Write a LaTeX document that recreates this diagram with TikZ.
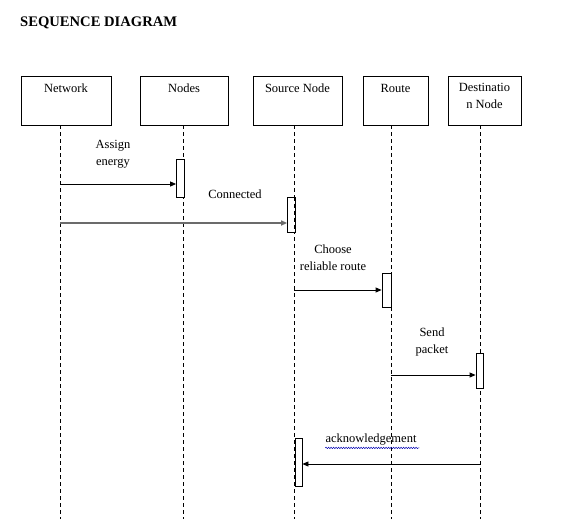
\documentclass[tikz,border=0pt]{standalone}
\usepackage{fontspec}
\setmainfont{Liberation Serif}
\usetikzlibrary{arrows.meta,decorations.pathmorphing}
\begin{document}
\begin{tikzpicture}[x=1pt,y=-1pt,
  box/.style={draw,line width=0.8pt,minimum height=49pt,inner sep=0pt},
  lbl/.style={font=\fontsize{12.5}{17}\selectfont,align=center,inner sep=0pt},
  life/.style={line width=0.7pt,dash pattern=on 4pt off 3pt},
  act/.style={draw,fill=white,line width=0.8pt,inner sep=0pt},
  msg/.style={line width=0.8pt,-{Triangle[length=6pt,width=5pt]}},
  msggray/.style={line width=1.6pt,draw=black!58,-{Triangle[length=6pt,width=5pt]}}]
\useasboundingbox (0,0) rectangle (581,519);
% title
\node[font=\bfseries\fontsize{14.6}{17}\selectfont,anchor=west,inner sep=0pt] (title) at (20,23) {SEQUENCE DIAGRAM};
% boxes
\node[box,minimum width=90pt] (net) at (66,100.5) {};
\node[box,minimum width=88pt] (nod) at (184,100.5) {};
\node[box,minimum width=89pt] (src) at (297.5,100.5) {};
\node[box,minimum width=65pt] (rte) at (395.5,100.5) {};
\node[box,minimum width=73pt] (dst) at (484.5,100.5) {};
\node[lbl] (netl) at (66,88) {Network};
\node[lbl] (nodl) at (184,88) {Nodes};
\node[lbl] (srcl) at (297.5,88) {Source Node};
\node[lbl] (rtel) at (395.5,88) {Route};
\node[lbl] (dstl) at (484.5,96) {Destinatio\\n Node};
% lifeline ends
\coordinate (netE) at (60,519);
\coordinate (nodE) at (183,519);
\coordinate (srcE) at (294,519);
\coordinate (rteE) at (391,519);
\coordinate (dstE) at (480,519);
\draw[life] (net.south -| netE) -- (netE);
\draw[life] (nod.south -| nodE) -- (nodE);
\draw[life] (src.south -| srcE) -- (srcE);
\draw[life] (rte.south -| rteE) -- (rteE);
\draw[life] (dst.south -| dstE) -- (dstE);
% activations
\node[act,minimum width=8pt,minimum height=38pt] (a1) at (180.5,178.5) {};
\node[act,minimum width=8pt,minimum height=35pt] (a2) at (291.5,214.5) {};
\draw[life] (a2.north -| srcE) -- (a2.south -| srcE);
\node[act,minimum width=9pt,minimum height=34pt] (a3) at (386.5,290) {};
\node[act,minimum width=7pt,minimum height=35pt] (a4) at (479.5,370.5) {};
\node[act,minimum width=7pt,minimum height=48pt] (a5) at (298.5,462) {};
% messages
\coordinate (m1) at (60,184);
\draw[msg] (m1) -- (a1.west |- m1);
\node[lbl] (m1l) at (113,154) {Assign\\energy};
\coordinate (m2) at (60,223);
\draw[msggray] (m2) -- (a2.west |- m2);
\node[lbl] (m2l) at (235,194) {Connected};
\coordinate (m3) at (294,290);
\draw[msg] (m3) -- (a3.west |- m3);
\node[lbl] (m3l) at (333,258) {Choose\\reliable route};
\coordinate (m4) at (391,375);
\draw[msg] (m4) -- (a4.west |- m4);
\node[lbl] (m4l) at (432,342) {Send\\packet};
\coordinate (m5) at (480,464);
\draw[msg] (m5) -- (a5.east |- m5);
\node[lbl] (m5l) at (371,440) {acknowledgement};
\draw[blue!70!black,line width=0.5pt,decorate,decoration={snake,amplitude=0.7pt,segment length=2.5pt}] (m5l.south west) ++(0,2) -- ++(94,0);
\end{tikzpicture}
\end{document}
